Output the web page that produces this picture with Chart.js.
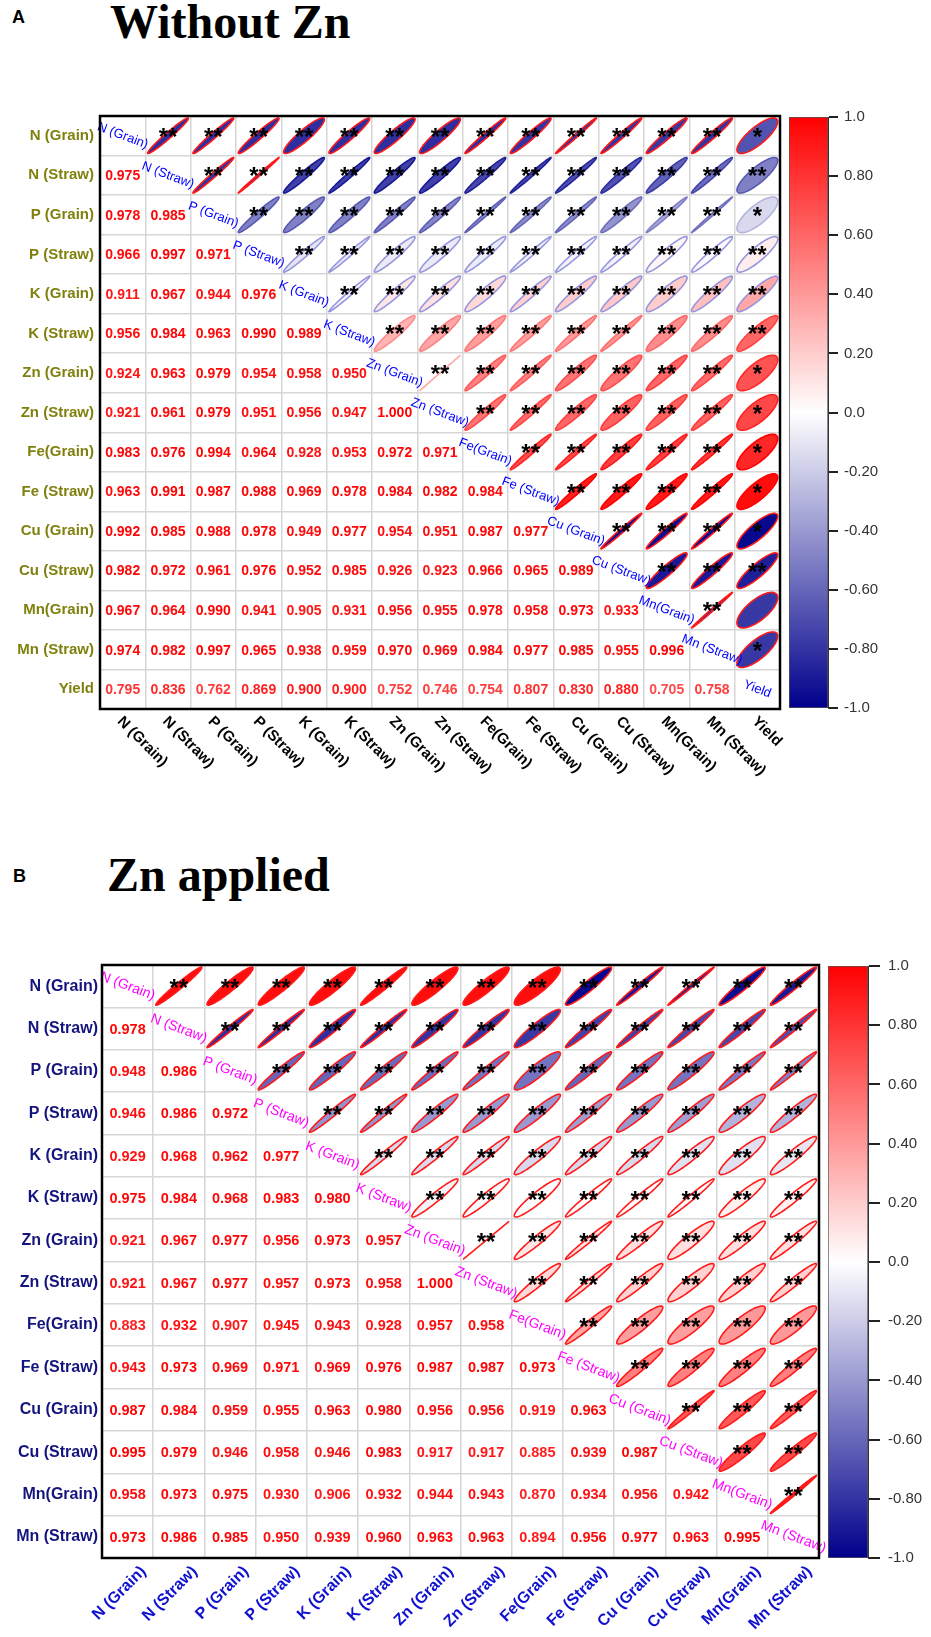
<!DOCTYPE html>
<html><head><meta charset="utf-8">
<script src="https://cdn.jsdelivr.net/npm/chart.js@4.4.1/dist/chart.umd.min.js"></script>
<style>
html,body{margin:0;padding:0;background:#fff;}
body{width:931px;height:1637px;position:relative;overflow:hidden;}
canvas{position:absolute;}
.t{position:absolute;white-space:nowrap;color:#000;}
.big{font-family:"Liberation Serif","Times New Roman",serif;font-weight:bold;font-size:48px;line-height:48px;}
.tag{font-family:"Liberation Sans",Arial,sans-serif;font-weight:bold;font-size:18px;line-height:18px;}
</style></head>
<body>
<div class="t tag" style="left:12px;top:8px">A</div>
<div class="t big" style="left:110px;top:-2px">Without Zn</div>
<div class="t tag" style="left:13px;top:867px">B</div>
<div class="t big" style="left:107px;top:851px">Zn applied</div>
<canvas id="mA" width="931" height="800" style="left:0;top:0"></canvas>
<canvas id="cA" width="100" height="800" style="left:789px;top:0"></canvas>
<canvas id="mB" width="931" height="837" style="left:0;top:800px"></canvas>
<canvas id="cB" width="100" height="837" style="left:828px;top:800px"></canvas>
<script>
// ---------- DATA ----------
const labelsA = ["N (Grain)","N (Straw)","P (Grain)","P (Straw)","K (Grain)","K (Straw)","Zn (Grain)","Zn (Straw)","Fe(Grain)","Fe (Straw)","Cu (Grain)","Cu (Straw)","Mn(Grain)","Mn (Straw)","Yield"];
// lower triangle correlation values (row i, columns 0..i-1)
const corrA = [
  [],
  [0.975],
  [0.978,0.985],
  [0.966,0.997,0.971],
  [0.911,0.967,0.944,0.976],
  [0.956,0.984,0.963,0.990,0.989],
  [0.924,0.963,0.979,0.954,0.958,0.950],
  [0.921,0.961,0.979,0.951,0.956,0.947,1.000],
  [0.983,0.976,0.994,0.964,0.928,0.953,0.972,0.971],
  [0.963,0.991,0.987,0.988,0.969,0.978,0.984,0.982,0.984],
  [0.992,0.985,0.988,0.978,0.949,0.977,0.954,0.951,0.987,0.977],
  [0.982,0.972,0.961,0.976,0.952,0.985,0.926,0.923,0.966,0.965,0.989],
  [0.967,0.964,0.990,0.941,0.905,0.931,0.956,0.955,0.978,0.958,0.973,0.933],
  [0.974,0.982,0.997,0.965,0.938,0.959,0.970,0.969,0.984,0.977,0.985,0.955,0.996],
  [0.795,0.836,0.762,0.869,0.900,0.900,0.752,0.746,0.754,0.807,0.830,0.880,0.705,0.758]
];
// upper-triangle ellipse fill (colour-bar value), row i, columns i+1..n-1
const fillA = [
  [-0.82,-0.82,-0.82,-0.82,-0.82,-0.82,-0.82,-0.82,-0.8,-0.8,-0.8,-0.78,-0.8,-0.68],
  [-0.8,-0.8,-0.75,-0.75,-0.75,-0.75,-0.72,-0.72,-0.7,-0.68,-0.62,-0.58,-0.5],
  [-0.5,-0.5,-0.5,-0.5,-0.48,-0.48,-0.45,-0.45,-0.42,-0.35,-0.4,-0.15],
  [-0.1,-0.08,-0.08,-0.08,-0.07,-0.06,-0.05,-0.05,0.03,-0.02,0.07],
  [-0.05,0.1,0.12,0.15,0.18,0.2,0.22,0.2,0.25,0.35],
  [0.3,0.35,0.38,0.38,0.4,0.42,0.45,0.45,0.6],
  [0.2,0.5,0.5,0.55,0.55,0.6,0.58,0.68],
  [0.55,0.58,0.6,0.62,0.62,0.62,0.72],
  [0.7,0.72,0.75,0.75,0.78,0.85],
  [0.88,0.9,0.9,0.9,0.95],
  [-0.95,-0.95,-0.95,-0.97],
  [-0.9,-0.9,-0.88],
  [-0.8,-0.78],
  [-0.78]
];
// ellipse outline code: r = red, d = darker fill, l = lavender
const edgeA = ["rrrrrrrrrrrrrr","rrddddddddddd","dddddddddddd","lllllllllll","llllllllll","ddddddddd","dddddddd","ddddddd","dddddd","ddddd","rrrr","rrr","rr","r"];
// significance stars per upper cell (number of *)
const starsA = ["22222222222221","2222222222222","222222222221","22222222222","2222222222","222222222","22222221","2222221","222221","22221","2221","222","20","1"];

const labelsB = ["N (Grain)","N (Straw)","P (Grain)","P (Straw)","K (Grain)","K (Straw)","Zn (Grain)","Zn (Straw)","Fe(Grain)","Fe (Straw)","Cu (Grain)","Cu (Straw)","Mn(Grain)","Mn (Straw)"];
const corrB = [
  [],
  [0.978],
  [0.948,0.986],
  [0.946,0.986,0.972],
  [0.929,0.968,0.962,0.977],
  [0.975,0.984,0.968,0.983,0.980],
  [0.921,0.967,0.977,0.956,0.973,0.957],
  [0.921,0.967,0.977,0.957,0.973,0.958,1.000],
  [0.883,0.932,0.907,0.945,0.943,0.928,0.957,0.958],
  [0.943,0.973,0.969,0.971,0.969,0.976,0.987,0.987,0.973],
  [0.987,0.984,0.959,0.955,0.963,0.980,0.956,0.956,0.919,0.963],
  [0.995,0.979,0.946,0.958,0.946,0.983,0.917,0.917,0.885,0.939,0.987],
  [0.958,0.973,0.975,0.930,0.906,0.932,0.944,0.943,0.870,0.934,0.956,0.942],
  [0.973,0.986,0.985,0.950,0.939,0.960,0.963,0.963,0.894,0.956,0.977,0.963,0.995]
];
const fillB = [
  [0.95,0.95,0.95,0.95,0.95,0.95,0.95,0.95,-0.97,-0.9,-0.9,-0.95,-0.9],
  [-0.82,-0.82,-0.82,-0.82,-0.8,-0.8,-0.78,-0.75,-0.75,-0.72,-0.72,-0.7],
  [-0.6,-0.6,-0.58,-0.58,-0.55,-0.55,-0.6,-0.55,-0.55,-0.52,-0.5],
  [-0.42,-0.42,-0.4,-0.4,-0.4,-0.38,-0.4,-0.38,-0.3,-0.3],
  [-0.15,-0.15,-0.15,-0.15,-0.15,-0.15,-0.12,-0.12,-0.1],
  [-0.05,-0.03,-0.02,0,0,0.02,0.06,0.05],
  [0.1,0.1,0.12,0.12,0.12,0.12,0.12],
  [0.15,0.15,0.18,0.18,0.18,0.18],
  [0.35,0.38,0.38,0.4,0.4],
  [0.5,0.5,0.5,0.5],
  [0.65,0.65,0.65],
  [0.72,0.72],
  [0.9]
];
const edgeB = ["rrrrrrrrrrrrr","rrrrrrrrrrrr","rrrrrrrrrrr","rrrrrrrrrr","rrrrrrrrr","rrrrrrrr","rrrrrrr","rrrrrr","rrrrr","rrrr","rrr","rr","r"];
const starsB = ["2222222222222","222222222222","22222222222","2222222222","222222222","22222222","2222222","222222","22222","2222","222","22","2"];

const cbTicks = [-1,-0.8,-0.6,-0.4,-0.2,0,0.2,0.4,0.6,0.8,1];
const cbLabels = ["-1.0","-0.80","-0.60","-0.40","-0.20","0.0","0.20","0.40","0.60","0.80","1.0"];

// ---------- HELPERS ----------
const FONT = '"Liberation Sans", Arial, sans-serif';
function cmap(v){
  v=Math.max(-1,Math.min(1,v)); let r,g,b;
  if(v>=0){ r=255; g=b=Math.round(255*(1-v)); }
  else { const t=-v; r=g=Math.round(255*(1-t)); b=Math.round(255-(255-139)*t); }
  return 'rgb('+r+','+g+','+b+')';
}
function edgeColor(code,v){
  if(code==='r') return '#ff1a1a';
  if(code==='l') return 'rgb(150,150,222)';
  return cmap(v>=0?Math.min(1,v+0.15):Math.max(-1,v-0.15));
}

function makeMatrix(canvasId, cfg){
  const n = cfg.labels.length;
  const upper=[], lower=[], diag=[];
  for(let i=0;i<n;i++){
    diag.push({x:cfg.labels[i], y:cfg.labels[i], t:cfg.labels[i]});
    for(let j=0;j<i;j++) lower.push({x:cfg.labels[j], y:cfg.labels[i], v:cfg.corr[i][j]});
    for(let j=i+1;j<n;j++){
      const k=j-i-1;
      upper.push({x:cfg.labels[j], y:cfg.labels[i], r:cfg.corr[j][i], f:cfg.fill[i][k], e:cfg.edge[i][k], s:+cfg.stars[i][k]});
    }
  }
  const plugin = {
    id:'corrCells',
    afterDatasetsDraw(chart){
      const ctx=chart.ctx, xs=chart.scales.x, ys=chart.scales.y;
      const cw=Math.abs(xs.getPixelForValue(1)-xs.getPixelForValue(0));
      const ch=Math.abs(ys.getPixelForValue(1)-ys.getPixelForValue(0));
      ctx.save();
      // ellipses
      const m0=chart.getDatasetMeta(0);
      m0.data.forEach((el,k)=>{
        const d=chart.data.datasets[0].data[k];
        const a=Math.acos(Math.max(-1,Math.min(1,d.r)));
        ctx.beginPath();
        for(let s=0;s<=120;s++){
          const t=s/120*2*Math.PI;
          const px=el.x+cw*0.45*Math.cos(t+a/2);
          const py=el.y-ch*0.45*Math.cos(t-a/2);
          if(s===0) ctx.moveTo(px,py); else ctx.lineTo(px,py);
        }
        ctx.closePath();
        ctx.fillStyle=cmap(d.f); ctx.fill();
        ctx.lineWidth=1.6; ctx.strokeStyle=edgeColor(d.e,d.f); ctx.stroke();
        if(d.s>0){
          ctx.fillStyle='#000'; ctx.font='bold 24px '+FONT;
          ctx.textAlign='center'; ctx.textBaseline='alphabetic';
          ctx.fillText('*'.repeat(d.s), el.x, el.y+cfg.starDy);
        }
      });
      // numbers
      const m1=chart.getDatasetMeta(1);
      ctx.font='bold '+cfg.numSize+'px '+FONT; ctx.textAlign='center'; ctx.textBaseline='middle';
      m1.data.forEach((el,k)=>{
        const d=chart.data.datasets[1].data[k];
        ctx.fillStyle=cmap(d.v);
        ctx.fillText(d.v.toFixed(3), el.x, el.y+1);
      });
      ctx.restore();
    },
    afterDraw(chart){
      const ctx=chart.ctx, a=chart.chartArea, xs=chart.scales.x;
      ctx.save();
      // diagonal labels
      const m2=chart.getDatasetMeta(2);
      ctx.font=cfg.diagSize+'px '+FONT; ctx.fillStyle=cfg.diagColor;
      ctx.textAlign='center'; ctx.textBaseline='middle';
      m2.data.forEach((el,k)=>{
        const d=chart.data.datasets[2].data[k];
        ctx.save(); ctx.translate(el.x,el.y); ctx.rotate(0.36); ctx.fillText(d.t,0,0); ctx.restore();
      });
      // frame
      ctx.lineWidth=2.5; ctx.strokeStyle='#000';
      ctx.strokeRect(a.left,a.top,a.right-a.left,a.bottom-a.top);
      // x labels
      ctx.font='bold '+cfg.xSize+'px '+FONT; ctx.fillStyle=cfg.xColor; ctx.textBaseline='middle';
      cfg.labels.forEach((lab,j)=>{
        const x=xs.getPixelForValue(j);
        ctx.save();
        if(cfg.xDown){ ctx.translate(x-3,a.bottom+10); ctx.rotate(Math.PI/4); ctx.textAlign='left'; }
        else { ctx.translate(x+16,a.bottom+11); ctx.rotate(-Math.PI/4); ctx.textAlign='right'; }
        ctx.fillText(lab,0,0); ctx.restore();
      });
      ctx.restore();
    }
  };
  const grid={offset:true,color:'#d6d6d6',lineWidth:1.5,drawTicks:false};
  return new Chart(document.getElementById(canvasId),{
    type:'scatter',
    data:{datasets:[
      {label:'upper',data:upper,pointRadius:0},
      {label:'lower',data:lower,pointRadius:0},
      {label:'diag',data:diag,pointRadius:0}
    ]},
    options:{
      responsive:false, animation:false, events:[],
      layout:{padding:cfg.pad},
      plugins:{legend:{display:false},tooltip:{enabled:false}},
      scales:{
        x:{type:'category',labels:cfg.labels,offset:true,grid:grid,border:{display:false},
           ticks:{display:false},afterFit(s){s.height=cfg.xH;}},
        y:{type:'category',labels:cfg.labels,offset:true,grid:grid,border:{display:false},
           ticks:{autoSkip:false,color:cfg.yColor,padding:cfg.yPad,font:{family:FONT,weight:'bold',size:cfg.ySize}},
           afterFit(s){s.width=cfg.yW;}}
      }
    },
    plugins:[plugin]
  });
}

function makeBar(canvasId, cfg){
  return new Chart(document.getElementById(canvasId),{
    type:'bar',
    data:{labels:[''],datasets:[{data:[[-1,1]],borderColor:'#555',borderWidth:1,borderSkipped:false,
      barPercentage:1,categoryPercentage:1,
      backgroundColor(c){
        const ch=c.chart, y=ch.scales.y;
        if(!y||!ch.chartArea) return '#fff';
        const g=ch.ctx.createLinearGradient(0,y.getPixelForValue(1),0,y.getPixelForValue(-1));
        g.addColorStop(0,cmap(1)); g.addColorStop(0.5,cmap(0)); g.addColorStop(1,cmap(-1));
        return g;
      }}]},
    options:{
      responsive:false, animation:false, events:[],
      layout:{padding:cfg.pad},
      plugins:{legend:{display:false},tooltip:{enabled:false}},
      scales:{
        x:{display:false},
        y:{position:'right',min:-1,max:1,
           afterBuildTicks(s){ s.ticks=cbTicks.map(v=>({value:v})); },
           ticks:{color:'#333',padding:cfg.tPad,font:{family:FONT,size:15},callback:(v,i)=>cbLabels[i]},
           grid:{drawOnChartArea:false,drawTicks:true,tickLength:cfg.tLen,color:'#222',lineWidth:2},
           border:{display:true,color:'#333',width:1},
           afterFit(s){s.width=cfg.w;}}
      }
    }
  });
}

makeMatrix('mA',{labels:labelsA,corr:corrA,fill:fillA,edge:edgeA,stars:starsA,
  pad:{top:116,right:151,left:0,bottom:0},xH:91,yW:100,yPad:6,ySize:15,yColor:'#80800f',
  numSize:14,diagSize:13,diagColor:'#0000ff',xSize:15,xColor:'#000',xDown:true,starDy:9});
makeBar('cA',{pad:{top:117,bottom:92,left:0,right:0},w:61,tPad:6,tLen:10});
makeMatrix('mB',{labels:labelsB,corr:corrB,fill:fillB,edge:edgeB,stars:starsB,
  pad:{top:165,right:112,left:0,bottom:0},xH:79,yW:102,yPad:4,ySize:16,yColor:'#14147f',
  numSize:14.5,diagSize:14,diagColor:'#ff00ff',xSize:16,xColor:'#1010d0',xDown:false,starDy:10});
makeBar('cB',{pad:{top:166,bottom:79,left:0,right:0},w:60,tPad:8,tLen:12});
</script>
</body></html>
